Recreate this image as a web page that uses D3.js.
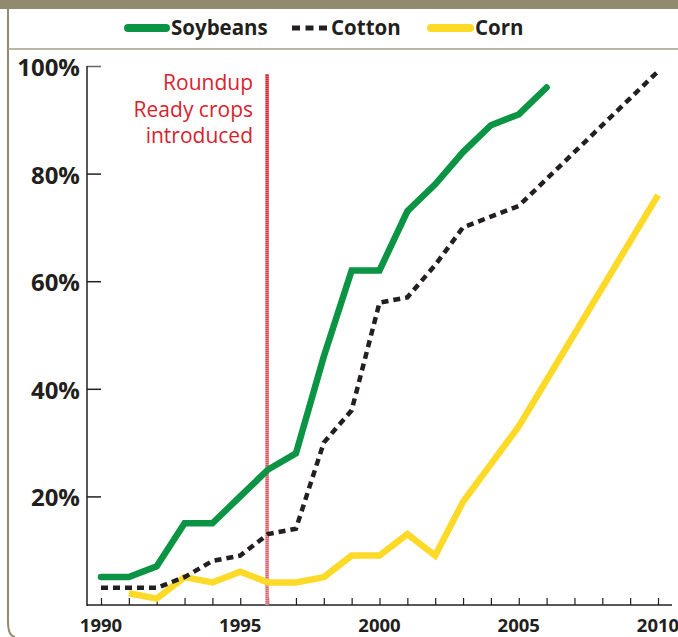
<!DOCTYPE html>
<html>
<head>
<meta charset="utf-8">
<style>
  body { margin: 0; background: #fff; }
  svg { display: block; font-family: "Open Sans", sans-serif; }
</style>
</head>
<body>
<svg id="chart"></svg>
<script src="https://cdn.jsdelivr.net/npm/d3@7"></script>
<script>
// data
var soyYears = [1990,1991,1992,1993,1994,1995,1996,1997,1998,1999,2000,2001,2002,2003,2004,2005,2006];
var soyValues = [5,5,7,15,15,20,25,28,46,62,62,73,78,84,89,91,96];

var cottonYears = [1990,1991,1992,1993,1994,1995,1996,1997,1998,1999,2000,2001,2002,2003,2004,2005,2010];
var cottonValues = [3,3,3,5,8,9,13,14,30,36,56,57,63,70,72,74,99];

var cornYears = [1991,1992,1993,1994,1995,1996,1997,1998,1999,2000,2001,2002,2003,2004,2005,2010];
var cornValues = [2,1,5,4,6,4,4,5,9,9,13,9,19,26,33,76];

var yTicks = [20,40,60,80,100];
var xLabels = [1990,1995,2000,2005,2010];
var introYear = 1996;
var noteLines = ["Roundup", "Ready crops", "introduced"];

var width = 678, height = 637;
var svg = d3.select("#chart").attr("width", width).attr("height", height);

var x = d3.scaleLinear().domain([1990, 2010]).range([101, 658]);
var y = d3.scaleLinear().domain([0, 100]).range([604, 66]);

// frame
var frameCol = "#918a6e";
svg.append("rect").attr("x", 0).attr("y", 0).attr("width", width).attr("height", 9).attr("fill", frameCol);
svg.append("path")
  .attr("d", "M8,9 L8,622 Q8,636 15,637")
  .attr("fill", "none").attr("stroke", frameCol).attr("stroke-width", 2);
svg.append("line").attr("x1", 8).attr("x2", width).attr("y1", 49).attr("y2", 49)
  .attr("stroke", "#a39d86").attr("stroke-width", 1.5);

// legend
var legend = [
  {name: "Soybeans", x1: 128, x2: 166, tx: 171, color: "#0b9444", dash: null, w: 8},
  {name: "Cotton", x1: 292, x2: 327, tx: 331, color: "#231f20", dash: "8,5.5", w: 5},
  {name: "Corn", x1: 431, x2: 470, tx: 475, color: "#fdd928", dash: null, w: 8}
];
legend.forEach(function(d){
  svg.append("line").attr("x1", d.x1).attr("x2", d.x2).attr("y1", 28).attr("y2", 28)
    .attr("stroke", d.color).attr("stroke-width", d.w)
    .attr("stroke-linecap", d.dash ? "butt" : "round")
    .attr("stroke-dasharray", d.dash);
  svg.append("text").attr("x", d.tx).attr("y", 35).text(d.name)
    .attr("font-size", 20.5).attr("font-weight", "bold").attr("fill", "#231f20");
});

// axes
var yAxis = d3.axisRight(y).tickValues(yTicks).tickSize(14).tickFormat("");
var gy = svg.append("g").attr("transform", "translate(87,0)").call(yAxis);
gy.select(".domain").remove();
gy.selectAll(".tick line").attr("stroke", "#231f20").attr("stroke-width", 1.5);
gy.selectAll(".tick").filter(function(d){ return d === 100; }).select("line").attr("stroke", "#666");
svg.append("line").attr("x1", 87).attr("x2", 87).attr("y1", 66).attr("y2", 606)
  .attr("stroke", "#231f20").attr("stroke-width", 1.5);

svg.selectAll(".ylab").data(yTicks).enter().append("text")
  .attr("class", "ylab")
  .attr("x", 80).attr("y", function(d){ return y(d) + 10; })
  .attr("text-anchor", "end").attr("font-size", 24).attr("font-weight", "bold")
  .attr("fill", "#231f20")
  .text(function(d){ return d + "%"; });

var xAxis = d3.axisTop(x).tickValues(d3.range(1990, 2011)).tickSize(7).tickFormat("");
var gx = svg.append("g").attr("transform", "translate(0,605)").call(xAxis);
gx.select(".domain").remove();
gx.selectAll(".tick line").attr("stroke", "#231f20").attr("stroke-width", 1.2);
svg.append("line").attr("x1", 87).attr("x2", 672).attr("y1", 605).attr("y2", 605)
  .attr("stroke", "#231f20").attr("stroke-width", 1.5);

svg.selectAll(".xlab").data(xLabels).enter().append("text")
  .attr("class", "xlab")
  .attr("x", function(d){ return x(d); }).attr("y", 632)
  .attr("text-anchor", "middle").attr("font-size", 18.5).attr("font-weight", "bold")
  .attr("fill", "#231f20")
  .text(function(d){ return d; });

// intro marker
var grad = svg.append("defs").append("linearGradient").attr("id", "redfade")
  .attr("x1", 0).attr("x2", 0).attr("y1", 0).attr("y2", 1);
grad.append("stop").attr("offset", "0%").attr("stop-color", "#d8232f");
grad.append("stop").attr("offset", "100%").attr("stop-color", "#e06a72");
var rx = x(introYear) - 1;
svg.append("rect").attr("x", rx - 1.75).attr("y", 74).attr("width", 3.5).attr("height", 531)
  .attr("fill", "url(#redfade)");
svg.append("line").attr("x1", rx).attr("x2", rx).attr("y1", 74).attr("y2", 605)
  .attr("stroke", "#fff").attr("stroke-width", 4).attr("stroke-dasharray", "1,1").attr("opacity", 0.3);

svg.selectAll(".note").data(noteLines).enter().append("text")
  .attr("class", "note")
  .attr("x", 253).attr("y", function(d, i){ return 90 + i * 26.5; })
  .attr("text-anchor", "end").attr("font-size", 21).attr("fill", "#d8232f")
  .text(function(d){ return d; });

// series
var line = d3.line().x(function(d){ return x(d[0]); }).y(function(d){ return y(d[1]); });
function pairs(xs, vs){ return xs.map(function(v, i){ return [v, vs[i]]; }); }

svg.append("path").datum(pairs(cornYears, cornValues))
  .attr("d", line).attr("fill", "none").attr("stroke", "#fdd928").attr("stroke-width", 6.5)
  .attr("stroke-linejoin", "miter").attr("stroke-linecap", "butt");
svg.append("path").datum(pairs(cottonYears, cottonValues))
  .attr("d", line).attr("fill", "none").attr("stroke", "#231f20").attr("stroke-width", 4.5)
  .attr("stroke-dasharray", "7,5");
svg.append("path").datum(pairs(soyYears, soyValues))
  .attr("d", line).attr("fill", "none").attr("stroke", "#0b9444").attr("stroke-width", 6.5)
  .attr("stroke-linejoin", "miter").attr("stroke-linecap", "round");
</script>
</body>
</html>
